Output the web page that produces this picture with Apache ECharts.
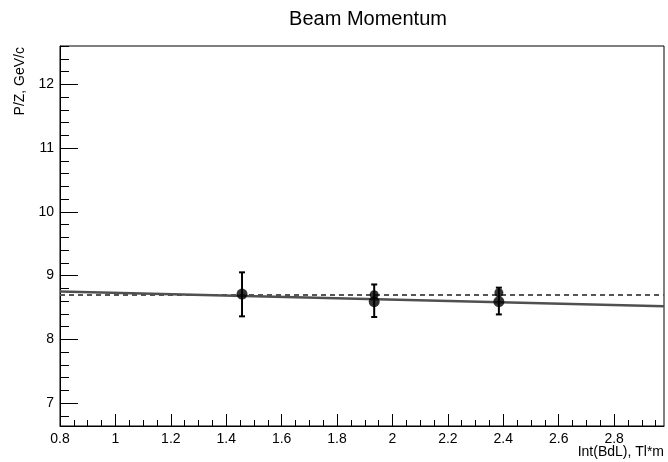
<!DOCTYPE html>
<html>
<head>
<meta charset="utf-8">
<script src="https://cdn.jsdelivr.net/npm/echarts@6/dist/echarts.min.js"></script>
<style>html,body{margin:0;padding:0;background:#fff}#c{width:668px;height:462px}</style>
</head>
<body>
<div id="c"></div>
<script>
// ---- data ----
var pointX = [1.457, 1.934, 2.384];
var pointY = [8.71, 8.59, 8.59];
var errLow = [8.36, 8.35, 8.39];
var errHigh = [9.05, 8.86, 8.81];
var secondX = [1.934, 2.384];
var secondY = [8.70, 8.73];
var fitX = [0.8, 2.98];
var fitY = [8.75, 8.52];
var constX = [0.8, 2.98];
var constY = [8.695, 8.695];
var xTicks = [0.8, 1, 1.2, 1.4, 1.6, 1.8, 2, 2.2, 2.4, 2.6, 2.8];
var yTicks = [7, 8, 9, 10, 11, 12];
var xRange = [0.8, 2.98];
var yRange = [6.64, 12.6];

// minor tick positions
var xMinor = [];
for (var i = 0; i <= 43; i++) { var v = Math.round((0.8 + i * 0.05) * 100) / 100; if (v <= xRange[1]) xMinor.push(v); }
var yMinor = [];
for (var j = 0; j <= 30; j++) { var w = Math.round((6.8 + j * 0.2) * 10) / 10; if (w <= yRange[1]) yMinor.push(w); }

var font = 'Liberation Sans, Arial, Helvetica, sans-serif';
var chart = echarts.init(document.getElementById('c'), null, {renderer: 'canvas'});

function pairs(xs, ys) { return xs.map(function (x, k) { return [x, ys[k]]; }); }

var option = {
  animation: false,
  backgroundColor: '#fff',
  title: {
    text: 'Beam Momentum', left: 363, top: 4, textAlign: 'center',
    textStyle: {fontFamily: font, fontSize: 20, fontWeight: 'normal', color: '#000'}
  },
  grid: {left: 60, right: 4, top: 46, bottom: 36, show: true, borderColor: '#000', borderWidth: 1, backgroundColor: 'transparent'},
  xAxis: [{
    type: 'value', min: xRange[0], max: xRange[1], gridIndex: 0,
    axisLine: {show: true, onZero: false, lineStyle: {color: '#000', width: 1}},
    splitLine: {show: false},
    axisTick: {show: true, inside: true, length: 12, customValues: xTicks, lineStyle: {color: '#000'}},
    axisLabel: {show: true, customValues: xTicks, margin: 6, fontFamily: font, fontSize: 14, color: '#000',
      formatter: function (v) { return String(v); }}
  }, {
    type: 'value', min: xRange[0], max: xRange[1], gridIndex: 0, position: 'bottom',
    axisLine: {show: false},
    splitLine: {show: false},
    axisTick: {show: true, inside: true, length: 6, customValues: xMinor, lineStyle: {color: '#000'}},
    axisLabel: {show: false}
  }],
  yAxis: [{
    type: 'value', min: yRange[0], max: yRange[1], position: 'left',
    axisLine: {show: true, onZero: false, lineStyle: {color: '#000', width: 1}},
    splitLine: {show: false},
    axisTick: {show: true, inside: true, length: 18, customValues: yTicks, lineStyle: {color: '#000'}},
    axisLabel: {show: true, inside: false, customValues: yTicks, margin: 6, fontFamily: font, fontSize: 14, color: '#000'}
  }, {
    type: 'value', min: yRange[0], max: yRange[1], position: 'left',
    axisLine: {show: false},
    splitLine: {show: false},
    axisTick: {show: true, inside: true, length: 9, customValues: yMinor, lineStyle: {color: '#000'}},
    axisLabel: {show: false}
  }],
  graphic: [
    {type: 'text', x: 20, y: 47, rotation: Math.PI / 2,
      style: {text: 'P/Z, GeV/c', font: '14px ' + font, fill: '#000', textAlign: 'right', textVerticalAlign: 'middle'}},
    {type: 'text', x: 664, y: 452,
      style: {text: 'Int(BdL), Tl*m', font: '14px ' + font, fill: '#000', textAlign: 'right', textVerticalAlign: 'middle'}}
  ],
  series: [
    {type: 'line', data: pairs(constX, constY), symbol: 'none', z: 2,
      lineStyle: {color: '#555', width: 2, type: [5, 4]}},
    {type: 'line', data: pairs(fitX, fitY), symbol: 'none', z: 3,
      lineStyle: {color: '#505050', width: 2.5}},
    {type: 'scatter', data: pairs(secondX, secondY), symbol: 'circle', symbolSize: 9, z: 4,
      itemStyle: {color: '#000'}},
    {type: 'custom', z: 5,
      data: pointX.map(function (x, k) { return [x, errLow[k], errHigh[k]]; }),
      renderItem: function (params, api) {
        var lo = api.coord([api.value(0), api.value(1)]);
        var hi = api.coord([api.value(0), api.value(2)]);
        var c = 3;
        var st = {stroke: '#000', lineWidth: 2};
        return {type: 'group', children: [
          {type: 'line', shape: {x1: hi[0], y1: hi[1], x2: lo[0], y2: lo[1]}, style: st},
          {type: 'line', shape: {x1: hi[0] - c, y1: hi[1], x2: hi[0] + c, y2: hi[1]}, style: st},
          {type: 'line', shape: {x1: lo[0] - c, y1: lo[1], x2: lo[0] + c, y2: lo[1]}, style: st}
        ]};
      }},
    {type: 'scatter', data: pairs(pointX, pointY), symbol: 'circle', symbolSize: 11, z: 6,
      itemStyle: {color: '#000'}}
  ]
};
chart.setOption(option);
</script>
</body>
</html>
